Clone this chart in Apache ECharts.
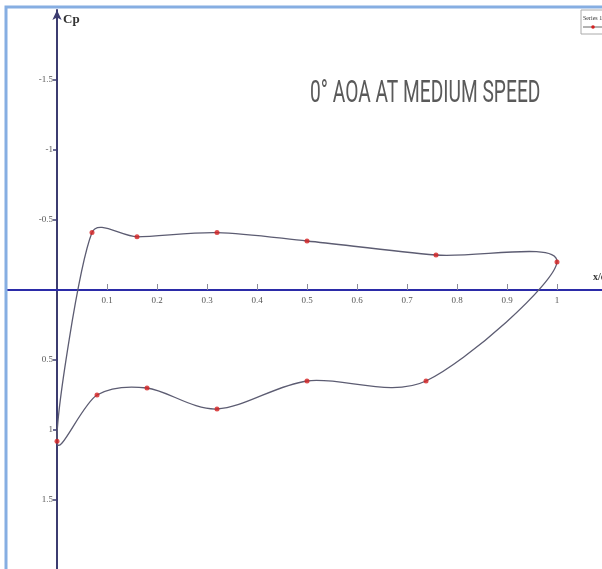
<!DOCTYPE html>
<html>
<head>
<meta charset="utf-8">
<script src="https://cdn.jsdelivr.net/npm/echarts@6/dist/echarts.min.js"></script>
<style>
html,body{margin:0;padding:0;background:#fff;}
#chart{width:602px;height:569px;}
</style>
</head>
<body>
<div id="chart"></div>
<script>
// Closed Cp loop (x/c, Cp), in drawing order
var xOverC = [0.5, 0.758, 1.0, 0.738, 0.5, 0.32, 0.18, 0.08, 0.0, 0.07, 0.16, 0.32];
var cpValues = [-0.35, -0.25, -0.2, 0.65, 0.65, 0.85, 0.70, 0.75, 1.08, -0.41, -0.38, -0.41];
var xTicks = [0.1, 0.2, 0.3, 0.4, 0.5, 0.6, 0.7, 0.8, 0.9, 1];
var yTicks = [-1.5, -1, -0.5, 0.5, 1, 1.5];
var titleText = '0° AOA AT MEDIUM SPEED';
var seriesName = 'Series 1';

var data = xOverC.map(function (x, i) { return [x, cpValues[i]]; });
var n = data.length;

function tangentOffset(prev, cur, next, segLen) {
  var vx = (next[0] - prev[0]) / 6, vy = (next[1] - prev[1]) / 6;
  var len = Math.sqrt(vx * vx + vy * vy);
  var maxLen = 0.33 * segLen;
  if (len > maxLen && len > 0) { vx *= maxLen / len; vy *= maxLen / len; }
  return [vx, vy];
}
function dist(a, b) { return Math.sqrt((a[0] - b[0]) * (a[0] - b[0]) + (a[1] - b[1]) * (a[1] - b[1])); }

// Smooth closed curve (Bezier spline) through the data points, in pixel space via the axes
function renderSegment(params, api) {
  var i = params.dataIndex;
  var p0 = api.coord(data[(i - 1 + n) % n]);
  var p1 = api.coord(data[i]);
  var p2 = api.coord(data[(i + 1) % n]);
  var p3 = api.coord(data[(i + 2) % n]);
  var seg = dist(p1, p2);
  var t1 = tangentOffset(p0, p1, p2, seg);
  var t2 = tangentOffset(p1, p2, p3, seg);
  return {
    type: 'bezierCurve',
    shape: {
      x1: p1[0], y1: p1[1], x2: p2[0], y2: p2[1],
      cpx1: p1[0] + t1[0], cpy1: p1[1] + t1[1],
      cpx2: p2[0] - t2[0], cpy2: p2[1] - t2[1]
    },
    style: {stroke: '#5c5c72', lineWidth: 1.3, fill: null}
  };
}

var chart = echarts.init(document.getElementById('chart'), null, {renderer: 'canvas'});
chart.setOption({
  backgroundColor: '#ffffff',
  animation: false,
  grid: {left: 7, right: 0, top: 10, height: 560, outerBoundsMode: 'none', containLabel: false},
  xAxis: {
    type: 'value', min: -0.1, max: 1.09, interval: 0.1,
    position: 'bottom', offset: -280,
    splitLine: {show: false},
    axisLine: {onZero: false, lineStyle: {color: '#2b2ba8', width: 2}},
    axisTick: {inside: true, length: 6, lineStyle: {color: '#8a8a9a'}, customValues: xTicks},
    axisLabel: {customValues: xTicks, margin: 6, fontFamily: 'Liberation Serif', fontSize: 9, color: '#555'}
  },
  yAxis: {
    type: 'value', inverse: true, min: -2, max: 2, interval: 0.5,
    position: 'left', offset: -50,
    splitLine: {show: false},
    axisLine: {onZero: false, symbol: ['none', 'arrow'], symbolSize: [7, 10], lineStyle: {color: '#3c3c70', width: 2}},
    axisTick: {length: 4, lineStyle: {color: '#3c3c70', width: 1.5}, customValues: yTicks},
    axisLabel: {customValues: yTicks, margin: 4, fontFamily: 'Liberation Serif', fontSize: 9, color: '#555'}
  },
  graphic: [
    {type: 'rect', z: 100, silent: true, shape: {x: 6, y: 7, width: 640, height: 620},
     style: {fill: null, stroke: '#86aee2', lineWidth: 3}},
    {type: 'text', x: 310, y: 78, scaleX: 0.6,
     style: {text: titleText, fontFamily: 'Roboto', fontSize: 32, fill: '#5a5a5a', textVerticalAlign: 'top'}},
    {type: 'text', x: 63, y: 13,
     style: {text: 'Cp', fontFamily: 'Liberation Serif', fontWeight: 'bold', fontSize: 13, fill: '#333', textVerticalAlign: 'top'}},
    {type: 'text', x: 593, y: 272,
     style: {text: 'x/c', fontFamily: 'Liberation Serif', fontWeight: 'bold', fontSize: 10, fill: '#333', textVerticalAlign: 'top'}},
    {type: 'rect', shape: {x: 581, y: 10, width: 30, height: 24},
     style: {fill: '#fff', stroke: '#aaa', lineWidth: 1}},
    {type: 'text', x: 583, y: 15,
     style: {text: seriesName, fontFamily: 'Liberation Serif', fontSize: 6, fill: '#333', textVerticalAlign: 'top'}},
    {type: 'line', shape: {x1: 583, y1: 27, x2: 602, y2: 27}, style: {stroke: '#666', lineWidth: 1}},
    {type: 'circle', shape: {cx: 593, cy: 27, r: 1.8}, style: {fill: '#d42020'}}
  ],
  series: [
    {
      name: seriesName,
      type: 'custom',
      data: data,
      renderItem: renderSegment,
      z: 2
    },
    {
      name: seriesName,
      type: 'scatter',
      data: data,
      symbol: 'circle',
      symbolSize: 5,
      itemStyle: {color: '#d42020'},
      z: 3
    }
  ]
});
</script>
</body>
</html>
